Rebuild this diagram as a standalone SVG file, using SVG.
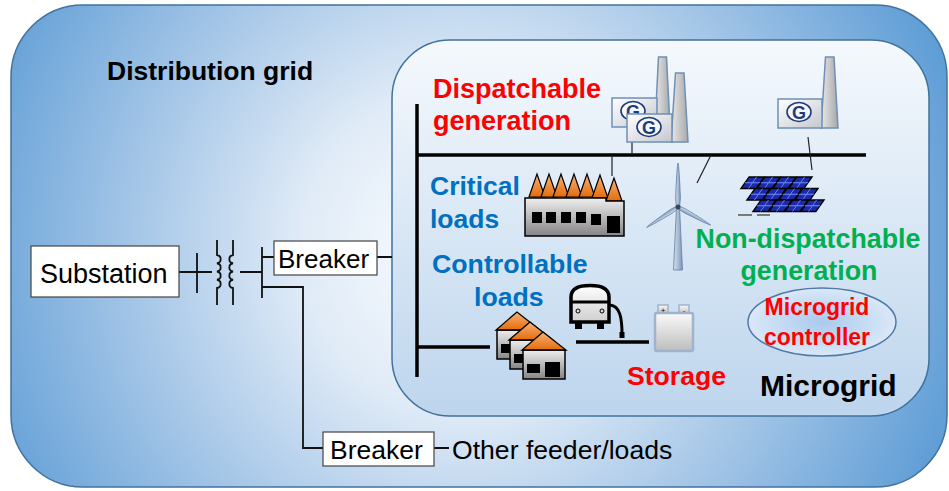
<svg xmlns="http://www.w3.org/2000/svg" width="949" height="491" viewBox="0 0 949 491">
  <defs>
    <style>
      .t { font-family: "Liberation Sans", Arial, sans-serif; }
      .b { font-weight: bold; }
      .red { fill: #ff0000; }
      .blue { fill: #0070c0; }
      .green { fill: #00b050; }
      .wire { stroke: #111; stroke-width: 1.8; fill: none; }
      .thin { stroke: #222; stroke-width: 1.2; fill: none; }
      .bus { stroke: #000; stroke-width: 3.5; fill: none; }
      .box { fill: #ffffff; stroke: #444; stroke-width: 1.2; }
      .plantBox { fill: url(#plantGrad); stroke: #6f8fb5; stroke-width: 1.5; }
      .chimney { fill: url(#chimGrad); stroke: #6f8fb5; stroke-width: 1.5; }
      .logo { fill: #f4f6fa; stroke: #1f3a78; stroke-width: 1.6; }
      .gtxt { fill: #1f3a78; font-size: 18px; text-anchor: middle; }
    </style>
    <radialGradient id="gridFill" gradientUnits="userSpaceOnUse" cx="460" cy="250" r="530">
      <stop offset="0" stop-color="#fbfdff"/>
      <stop offset="0.3" stop-color="#e0ebf7"/>
      <stop offset="0.6" stop-color="#a8c8e8"/>
      <stop offset="1" stop-color="#5b9bd5"/>
    </radialGradient>
    <linearGradient id="mgFill" x1="0" y1="0" x2="0" y2="1">
      <stop offset="0" stop-color="#f5f9fd"/>
      <stop offset="1" stop-color="#bdd5ed"/>
    </linearGradient>
    <radialGradient id="ctrlFill" cx="0.5" cy="0.5" r="0.6">
      <stop offset="0" stop-color="#a9caee"/>
      <stop offset="1" stop-color="#e4eefa"/>
    </radialGradient>
    <linearGradient id="plantGrad" x1="0" y1="0" x2="1" y2="1">
      <stop offset="0" stop-color="#ffffff"/>
      <stop offset="1" stop-color="#c4c8cf"/>
    </linearGradient>
    <linearGradient id="chimGrad" x1="0" y1="0" x2="1" y2="0">
      <stop offset="0" stop-color="#e8e8e8"/>
      <stop offset="1" stop-color="#a8a8a8"/>
    </linearGradient>
    <linearGradient id="bldGrad" x1="0" y1="0" x2="0" y2="1">
      <stop offset="0" stop-color="#eeeeee"/>
      <stop offset="1" stop-color="#858585"/>
    </linearGradient>
    <linearGradient id="roofGrad" x1="0" y1="0" x2="0" y2="1">
      <stop offset="0" stop-color="#f7b27a"/>
      <stop offset="1" stop-color="#e46c0a"/>
    </linearGradient>
    <linearGradient id="bladeGrad" x1="0" y1="0" x2="1" y2="0">
      <stop offset="0" stop-color="#d7e1ec"/>
      <stop offset="1" stop-color="#7d98b8"/>
    </linearGradient>
    <linearGradient id="battGrad" x1="0" y1="0" x2="0" y2="1">
      <stop offset="0" stop-color="#fafafa"/>
      <stop offset="1" stop-color="#bdbdbd"/>
    </linearGradient>
    <linearGradient id="carGrad" x1="0" y1="0" x2="0" y2="1">
      <stop offset="0" stop-color="#ffffff"/>
      <stop offset="1" stop-color="#cfcfcf"/>
    </linearGradient>
    <!-- turbine blade pointing up from the hub -->
    <path id="blade" d="M-1.6,0 L-2.4,-9 Q-1.2,-40 0,-44 Q1.2,-40 2.4,-9 L1.6,0 Z" fill="url(#bladeGrad)" stroke="#5d7fa6" stroke-width="0.8"/>
    <!-- one photovoltaic module -->
    <g id="pv">
      <rect x="0" y="0" width="15" height="11.5" fill="#1c2aa8" stroke="#000" stroke-width="1.6"/>
      <path d="M7.5,0 V11.5 M0,5.75 H15" stroke="#6f8dff" stroke-width="0.9"/>
    </g>
    <!-- house with roof, body and windows -->
    <g id="house">
      <rect x="1" y="18" width="42" height="29" fill="url(#bldGrad)" stroke="#000" stroke-width="1.5"/>
      <path d="M21,0 L0,18 L44,18 Z" fill="url(#roofGrad)" stroke="#000" stroke-width="1.3"/>
      <rect x="5" y="32" width="13" height="9" fill="#000"/>
      <rect x="23" y="30" width="15" height="15" fill="#000"/>
    </g>
    <path id="roof" d="M0,0 L-8,23 L8,23 Z" fill="url(#roofGrad)" stroke="#000" stroke-width="1.2"/>
  </defs>

  <!-- distribution grid frame -->
  <g id="distribution-grid">
    <rect x="11" y="5" width="936" height="482" rx="72" ry="72" fill="url(#gridFill)" stroke="#41719c" stroke-width="1.5"/>
    <text class="t b" x="107" y="80" font-size="26.5">Distribution grid</text>
  </g>

  <!-- microgrid frame -->
  <g id="microgrid">
    <rect x="392" y="40" width="537" height="376" rx="58" ry="58" fill="url(#mgFill)" stroke="#41719c" stroke-width="1.5"/>
    <text class="t b" x="760" y="396" font-size="30">Microgrid</text>
  </g>

  <!-- connectors -->
  <g id="connectors">
    <path class="wire" d="M179,272 H212 M197,253 V293"/>
    <!-- transformer windings -->
    <path class="wire" d="M217,240 V255 a4.5,4.2 0 0 1 0,8.25 a4.5,4.2 0 0 1 0,8.25 a4.5,4.2 0 0 1 0,8.25 a4.5,4.2 0 0 1 0,8.25 V305"/>
    <path class="wire" d="M233,240 V255 a4.5,4.2 0 0 0 0,8.25 a4.5,4.2 0 0 0 0,8.25 a4.5,4.2 0 0 0 0,8.25 a4.5,4.2 0 0 0 0,8.25 V305"/>
    <path class="wire" d="M240,272 H262 M262,247 V298 M262,257 H274 M377,257 H392"/>
    <path class="wire" d="M262,287 H303 V448 H323 M434,448 H449"/>
    <!-- microgrid buses -->
    <path class="bus" d="M417,104 V377 M417,155 H866"/>
    <path class="bus" stroke-width="3" d="M417,347 H490 M576,342 H649"/>
    <path class="thin" d="M612,155 V176 M632,142 V155 M711,155 L697,183 M808,137 L812,170"/>
  </g>

  <g id="substation">
    <rect class="box" x="31" y="246" width="148" height="51"/>
    <text class="t" x="40" y="283" font-size="27">Substation</text>
  </g>

  <g id="breaker-main">
    <rect class="box" x="274" y="241" width="103" height="34"/>
    <text class="t" x="278" y="268" font-size="26">Breaker</text>
  </g>

  <g id="breaker-feeder">
    <rect class="box" x="323" y="432" width="111" height="34"/>
    <text class="t" x="330" y="459" font-size="26.5">Breaker</text>
  </g>

  <g id="other-loads">
    <text class="t" x="452" y="459" font-size="26.6">Other feeder/loads</text>
  </g>

  <g id="dispatchable-generation">
    <text class="t b red" x="433" y="98" font-size="27">Dispatchable</text>
    <text class="t b red" x="433" y="130" font-size="27">generation</text>
    <!-- rear plant -->
    <path class="chimney" d="M655,127 L658.5,57 H666.5 L670,127 Z"/>
    <rect class="plantBox" x="612" y="98" width="45" height="29"/>
    <ellipse class="logo" cx="633" cy="111" rx="12" ry="9.5"/>
    <text class="t b gtxt" x="633" y="117.5">G</text>
    <!-- front plant -->
    <path class="chimney" d="M671,142 L675.5,73 H684 L688,142 Z"/>
    <rect class="plantBox" x="627" y="114" width="45" height="28"/>
    <ellipse class="logo" cx="649" cy="127" rx="12" ry="9.5"/>
    <text class="t b gtxt" x="649" y="133.5">G</text>
    <!-- right plant -->
    <path class="chimney" d="M821,128 L825.5,57 H834 L838,128 Z"/>
    <rect class="plantBox" x="778" y="99" width="44" height="29"/>
    <ellipse class="logo" cx="799" cy="112" rx="12" ry="9.5"/>
    <text class="t b gtxt" x="799" y="118.5">G</text>
  </g>

  <g id="critical-loads">
    <text class="t b blue" x="430" y="195" font-size="26.5">Critical</text>
    <text class="t b blue" x="430" y="228" font-size="26.5">loads</text>
    <use href="#roof" x="537" y="174"/>
    <use href="#roof" x="549" y="174"/>
    <use href="#roof" x="561" y="174"/>
    <use href="#roof" x="574" y="174"/>
    <use href="#roof" x="587" y="174"/>
    <use href="#roof" x="600" y="175"/>
    <use href="#roof" x="614" y="178"/>
    <path d="M525,198 H606 V201 H624 V236 H525 Z" fill="url(#bldGrad)" stroke="#000" stroke-width="1.5"/>
    <rect x="532" y="212" width="10" height="11" fill="#000"/>
    <rect x="546" y="212" width="10" height="11" fill="#000"/>
    <rect x="561" y="212" width="10" height="11" fill="#000"/>
    <rect x="576" y="212" width="10" height="11" fill="#000"/>
    <rect x="591" y="214" width="10" height="11" fill="#000"/>
    <rect x="607" y="216" width="13" height="17" fill="#000"/>
  </g>

  <g id="wind-turbine">
    <path d="M676.5,207 H679.5 L682.5,270 H673.5 Z" fill="url(#bladeGrad)" stroke="#5d7fa6" stroke-width="0.8"/>
    <use href="#blade" transform="translate(678,207)"/>
    <use href="#blade" transform="translate(678,207) rotate(119) scale(0.85)"/>
    <use href="#blade" transform="translate(678,207) rotate(237) scale(0.85)"/>
    <circle cx="678" cy="207" r="2.5" fill="#34475e"/>
  </g>

  <g id="solar-pv">
    <g transform="translate(749,177) skewX(-35)">
      <use href="#pv" x="0"/><use href="#pv" x="16"/><use href="#pv" x="32"/><use href="#pv" x="48"/>
    </g>
    <g transform="translate(755,188.5) skewX(-35)">
      <use href="#pv" x="0"/><use href="#pv" x="16"/><use href="#pv" x="32"/><use href="#pv" x="48"/>
    </g>
    <g transform="translate(761,200) skewX(-35)">
      <use href="#pv" x="0"/><use href="#pv" x="16"/><use href="#pv" x="32"/><use href="#pv" x="48"/>
    </g>
    <path d="M738,215 H752 M757,215 H770" stroke="#555" stroke-width="1.5"/>
  </g>

  <g id="non-dispatchable-generation">
    <text class="t b green" x="808" y="248" font-size="26.8" text-anchor="middle">Non-dispatchable</text>
    <text class="t b green" x="809" y="280" font-size="26.8" text-anchor="middle">generation</text>
  </g>

  <g id="controllable-loads">
    <text class="t b blue" x="432" y="273" font-size="26.7">Controllable</text>
    <text class="t b blue" x="474" y="306" font-size="26.7">loads</text>
    <use href="#house" x="496" y="312"/>
    <use href="#house" x="509" y="322"/>
    <use href="#house" x="522" y="332"/>
  </g>

  <g id="electric-vehicle">
    <path d="M610,305 C620,306 622,318 622,334" stroke="#000" stroke-width="3" fill="none"/>
    <rect x="619.5" y="332" width="5" height="6" fill="#000"/>
    <rect x="575" y="321" width="7" height="8" fill="#000"/>
    <rect x="597" y="321" width="7" height="8" fill="#000"/>
    <path d="M571,322 V297 Q571,285.5 590,285.5 Q609,285.5 609,297 V322 Z" fill="url(#carGrad)" stroke="#000" stroke-width="3.5"/>
    <path d="M571,302 H609" stroke="#000" stroke-width="3"/>
    <circle cx="578" cy="311" r="2" fill="none" stroke="#000" stroke-width="1"/>
    <circle cx="602" cy="311" r="2" fill="none" stroke="#000" stroke-width="1"/>
  </g>

  <g id="storage">
    <rect x="658" y="305" width="10" height="9" fill="url(#battGrad)" stroke="#9fb4cc" stroke-width="1.5"/>
    <rect x="679" y="305" width="10" height="9" fill="url(#battGrad)" stroke="#9fb4cc" stroke-width="1.5"/>
    <text class="t" x="663" y="313" font-size="8" text-anchor="middle">+</text>
    <text class="t" x="684" y="312.5" font-size="8" text-anchor="middle">-</text>
    <rect x="655" y="313" width="38" height="38" rx="2" fill="url(#battGrad)" stroke="#9fb4cc" stroke-width="2.5"/>
    <text class="t b red" x="627" y="385" font-size="26.6">Storage</text>
  </g>

  <g id="microgrid-controller">
    <ellipse cx="822" cy="322" rx="74" ry="34" fill="url(#ctrlFill)" stroke="#4f7aa6" stroke-width="1.5"/>
    <text class="t b red" x="817" y="315" font-size="23" text-anchor="middle">Microgrid</text>
    <text class="t b red" x="817" y="345" font-size="23" text-anchor="middle">controller</text>
  </g>
</svg>
